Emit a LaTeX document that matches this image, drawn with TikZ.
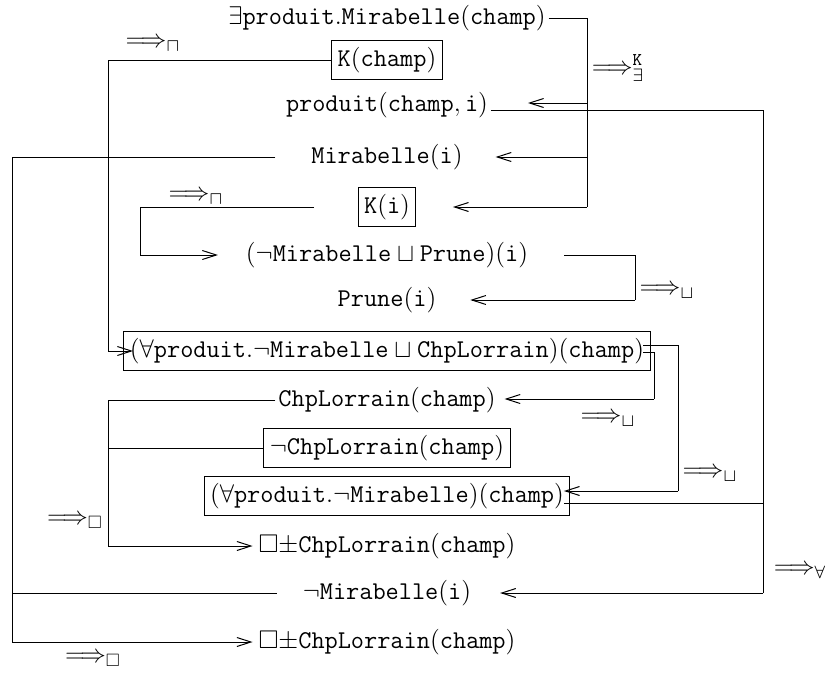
\RequirePackage{fix-cm}
\documentclass[tikz,border=0pt]{standalone}
\usepackage{amssymb}
\usetikzlibrary{arrows.meta,calc}
\begin{document}
\begin{tikzpicture}[x=0.5pt,y=-0.5pt,
  every node/.style={font=\fontsize{12.8}{15}\selectfont, inner sep=1.5pt, outer sep=0pt},
  boxed/.style={draw, line width=0.5pt, inner xsep=3pt, inner ysep=3.2pt},
  ln/.style={line width=0.5pt},
  arr/.style={ln, -{Straight Barb[length=7pt,width=4.5pt]}},
]
\useasboundingbox (0,0) rectangle (825,675);
% nodes
\node (n1) at (387,18) {$\exists\mathtt{produit.Mirabelle(champ)}$};
\node[boxed] (n2) at (387,60) {$\mathtt{K(champ)}$};
\node (n3) at (387,105) {$\mathtt{produit(champ,i)}$};
\node (n4) at (387,157) {$\mathtt{Mirabelle(i)}$};
\node[boxed] (n5) at (387,207) {$\mathtt{K(i)}$};
\node (n6) at (387,255) {$(\neg\mathtt{Mirabelle}\sqcup\mathtt{Prune})\mathtt{(i)}$};
\node (n7) at (387,300) {$\mathtt{Prune(i)}$};
\node[boxed] (n8) at (387,351) {$(\forall\mathtt{produit.}\neg\mathtt{Mirabelle}\sqcup\mathtt{ChpLorrain})\mathtt{(champ)}$};
\node (n9) at (387,400) {$\mathtt{ChpLorrain(champ)}$};
\node[boxed] (n10) at (387,448) {$\neg\mathtt{ChpLorrain(champ)}$};
\node[boxed] (n11) at (387,496) {$(\forall\mathtt{produit.}\neg\mathtt{Mirabelle})\mathtt{(champ)}$};
\node (n12) at (387,546) {$\Box\mathord{\pm}\mathtt{ChpLorrain(champ)}$};
\node (n13) at (387,593) {$\neg\mathtt{Mirabelle(i)}$};
\node (n14) at (387,642) {$\Box\mathord{\pm}\mathtt{ChpLorrain(champ)}$};
% rule labels
\node (l1) at (153,45) {$\Longrightarrow_{\sqcap}$};
\node (l2) at (618,68) {$\Longrightarrow^{\mathtt{K}}_{\exists}$};
\node (l3) at (196,198) {$\Longrightarrow_{\sqcap}$};
\node (l4) at (667,292) {$\Longrightarrow_{\sqcup}$};
\node (l5) at (608,420) {$\Longrightarrow_{\sqcup}$};
\node (l6) at (710,475) {$\Longrightarrow_{\sqcup}$};
\node (l7) at (800,572) {$\Longrightarrow_{\forall}$};
\node (l8) at (75,522) {$\Longrightarrow_{\Box}$};
\node (l9) at (93,660) {$\Longrightarrow_{\Box}$};
% bend coordinates
\coordinate (cA) at (587,207);
\coordinate (cA3) at (587,103);
\coordinate (cA4) at (587,157);
\coordinate (cB) at (108,351);
\coordinate (cC) at (763,593);
\coordinate (cC2) at (763,503);
\coordinate (cD) at (140,255);
\coordinate (cE) at (635,300);
\coordinate (cF1) at (678,491);
\coordinate (cF2) at (654,399);
\coordinate (cG) at (108,546);
\coordinate (cH) at (12,642);
% exists-K rule
\draw[ln] (n1.east) -| (cA);
\draw[arr, shorten >=18.5pt] (cA) -- (cA -| n5.east);
\draw[arr, shorten >=18.5pt] (cA3) -- (cA3 -| n3.east);
\draw[arr, shorten >=15pt] (cA4) -- (cA4 -| n4.east);
% sqcap rule on K(champ)
\draw[ln] (n2.west) -| (cB);
\draw[arr, shorten >=-4.5pt] (cB) -- (n8.west);
% forall rule
\draw[ln] ($(n3.east)+(0,5)$) -| (cC);
\draw[arr, shorten >=13pt] (cC) -- (cC -| n13.east);
\draw[ln] ($(n11.east)+(-6,7)$) -- (cC2);
% sqcap rule on K(i)
\draw[ln, shorten <=22pt] (n5.west) -| (cD);
\draw[arr, shorten >=12.5pt] (cD) -- (n6.west);
% sqcup rule on Prune
\draw[ln, shorten <=16.5pt] (n6.east) -| (cE);
\draw[arr, shorten >=15.5pt] (cE) -- (cE -| n7.east);
% clash Mirabelle
\draw[ln, shorten <=16.5pt] (n4.west) -| (cH);
\draw[ln, shorten <=11.5pt] (n13.west) -- (n13.west -| cH);
\draw[arr, shorten >=1.5pt] (cH) -- (n14.west);
% sqcup rule on big box
\draw[ln] ($(n8.east)+(-7,-6)$) -| (cF1);
\draw[arr, shorten >=-3pt] (cF1) -- (cF1 -| n11.east);
\draw[ln] ($(n8.east)+(-7,1)$) -| (cF2);
\draw[arr, shorten >=3pt] (cF2) -- (cF2 -| n9.east);
% clash ChpLorrain
\draw[ln] (n9.west) -| (cG);
\draw[ln] (n10.west) -- (n10.west -| cG);
\draw[arr, shorten >=1.5pt] (cG) -- (n12.west);
\end{tikzpicture}
\end{document}
